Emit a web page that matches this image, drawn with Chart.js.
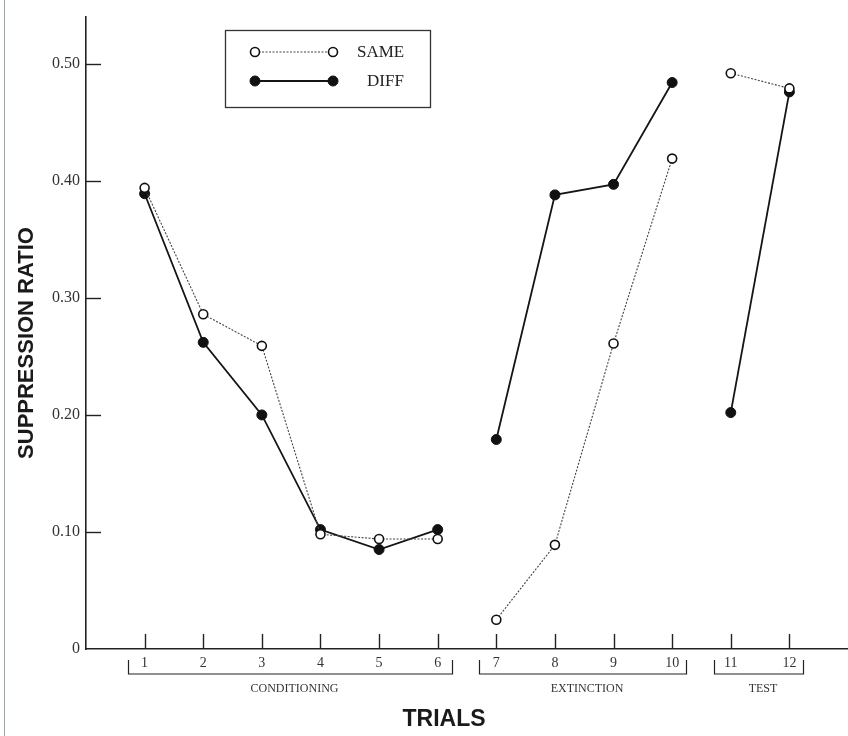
<!DOCTYPE html>
<html><head><meta charset="utf-8">
<script src="https://cdn.jsdelivr.net/npm/chart.js@4"></script>
<style>
html,body{margin:0;padding:0;background:#fff}
#wrap{position:relative;width:848px;height:736px;overflow:hidden}
#edge{position:absolute;left:4px;top:0;width:1px;height:736px;background:#9fa8a0}
canvas{display:block}
</style>
</head><body><div id="wrap"><canvas id="c" width="848" height="736"></canvas><div id="edge"></div></div>
<script>
const trials = [1, 2, 3, 4, 5, 6, 7, 8, 9, 10, 11, 12];
const sameValues = [0.394, 0.286, 0.259, 0.098, 0.094, 0.094, 0.025, 0.089, 0.261, 0.419, 0.492, 0.479];
const diffValues = [0.389, 0.262, 0.200, 0.102, 0.085, 0.102, 0.179, 0.388, 0.397, 0.484, 0.202, 0.476];
const yTickValues = [0, 0.1, 0.2, 0.3, 0.4, 0.5];
const phaseNames = ['CONDITIONING', 'EXTINCTION', 'TEST'];
const phaseFirstTrial = [1, 7, 11];
const phaseLastTrial = [6, 10, 12];
const seriesNames = ['SAME', 'DIFF'];
const axisTitleY = 'SUPPRESSION RATIO';
const axisTitleX = 'TRIALS';

const SERIF = "'Liberation Serif','Times New Roman',serif";
const SANS = "'Liberation Sans',Arial,sans-serif";
const gapSeg = ctx => phaseLastTrial.includes(trials[ctx.p0DataIndex]) ? 'rgba(0,0,0,0)' : undefined;

const extras = {
  id: 'extras',
  afterDraw(chart) {
    const ctx = chart.ctx, xs = chart.scales.x, ys = chart.scales.y;
    const ca = chart.chartArea;
    ctx.save();
    ctx.strokeStyle = '#222';
    ctx.lineWidth = 1.4;
    yTickValues.forEach(v => {
      if (v === 0) return;
      const y = Math.round(ys.getPixelForValue(v)) + 0.5;
      ctx.beginPath(); ctx.moveTo(ca.left, y); ctx.lineTo(ca.left + 15, y); ctx.stroke();
    });
    trials.forEach(t => {
      const x = Math.round(xs.getPixelForValue(t)) + 0.5;
      ctx.beginPath(); ctx.moveTo(x, ca.bottom); ctx.lineTo(x, ca.bottom - 15); ctx.stroke();
    });
    ctx.lineWidth = 1.2;
    ctx.fillStyle = '#333';
    ctx.font = '12px ' + SERIF;
    ctx.textAlign = 'center';
    ctx.textBaseline = 'middle';
    const by = ca.bottom + 25, bt = ca.bottom + 11;
    phaseNames.forEach((name, i) => {
      const x0 = Math.round(xs.getPixelForValue(phaseFirstTrial[i] - 0.29)) + 0.5;
      const x1 = Math.round(xs.getPixelForValue(phaseLastTrial[i] + 0.24)) + 0.5;
      ctx.beginPath();
      ctx.moveTo(x0, bt); ctx.lineTo(x0, by); ctx.lineTo(x1, by); ctx.lineTo(x1, bt);
      ctx.stroke();
      ctx.fillText(name, (x0 + x1) / 2 + 4, by + 15);
    });
    ctx.fillStyle = '#1a1a1a';
    ctx.font = 'bold 23px ' + SANS;
    ctx.fillText(axisTitleX, 444, 720);
    ctx.save();
    ctx.translate(27, 343);
    ctx.rotate(-Math.PI / 2);
    ctx.font = 'bold 22px ' + SANS;
    ctx.fillText(axisTitleY, 0, 0);
    ctx.restore();
    ctx.strokeStyle = '#333';
    ctx.lineWidth = 1.3;
    ctx.strokeRect(225.5, 30.5, 205, 77);
    const rows = [52, 81];
    const dsets = chart.data.datasets;
    rows.forEach((ry, i) => {
      const d = dsets[i];
      ctx.strokeStyle = d.borderColor;
      ctx.lineWidth = d.borderWidth;
      ctx.setLineDash(d.borderDash || []);
      ctx.beginPath(); ctx.moveTo(255, ry); ctx.lineTo(333, ry); ctx.stroke();
      ctx.setLineDash([]);
      [255, 333].forEach(px => {
        ctx.beginPath();
        ctx.arc(px, ry, d.pointRadius, 0, Math.PI * 2);
        ctx.fillStyle = d.pointBackgroundColor;
        ctx.fill();
        ctx.strokeStyle = d.pointBorderColor;
        ctx.lineWidth = d.pointBorderWidth;
        ctx.stroke();
      });
      ctx.fillStyle = '#222';
      ctx.font = '17px ' + SERIF;
      ctx.textAlign = 'left';
      ctx.fillText(seriesNames[i], i === 0 ? 357 : 367, ry + 1);
    });
    ctx.restore();
  }
};

new Chart(document.getElementById('c'), {
  type: 'line',
  data: {
    labels: trials,
    datasets: [
      {
        label: seriesNames[0],
        data: trials.map((t, i) => ({ x: t, y: sameValues[i] })),
        borderColor: '#444',
        borderWidth: 1.1,
        borderDash: [2, 1.5],
        pointRadius: 4.5,
        pointBackgroundColor: '#fff',
        pointBorderColor: '#111',
        pointBorderWidth: 1.6,
        segment: { borderColor: gapSeg },
        order: 0
      },
      {
        label: seriesNames[1],
        data: trials.map((t, i) => ({ x: t, y: diffValues[i] })),
        borderColor: '#151515',
        borderWidth: 1.8,
        pointRadius: 5,
        pointBackgroundColor: '#111',
        pointBorderColor: '#111',
        pointBorderWidth: 1,
        segment: { borderColor: gapSeg },
        order: 1
      }
    ]
  },
  options: {
    responsive: false,
    animation: false,
    devicePixelRatio: 1,
    layout: { autoPadding: false, padding: { top: 17, right: 0, left: 0, bottom: 0 } },
    plugins: { legend: { display: false }, tooltip: { enabled: false } },
    scales: {
      x: {
        type: 'linear',
        min: 0, max: 13,
        afterFit: s => { s.height = 87; s.paddingRight = 0; s.paddingLeft = 0; },
        afterBuildTicks: s => { s.ticks = trials.map(v => ({ value: v })); },
        grid: { display: true, drawOnChartArea: false, drawTicks: false },
        border: { display: true, color: '#222', width: 1.6 },
        ticks: {
          padding: 6,
          color: '#333',
          font: { family: SERIF, size: 14 },
          maxRotation: 0,
          autoSkip: false,
          callback: v => String(v)
        }
      },
      y: {
        type: 'linear',
        min: 0, max: 0.54,
        afterFit: s => { s.width = 86; s.paddingTop = 0; s.paddingBottom = 0; },
        afterBuildTicks: s => { s.ticks = yTickValues.map(v => ({ value: v })); },
        grid: { display: true, drawOnChartArea: false, drawTicks: false },
        border: { display: true, color: '#222', width: 1.6 },
        ticks: {
          padding: 6,
          color: '#333',
          font: { family: SERIF, size: 16 },
          callback: v => v === 0 ? '0' : v.toFixed(2)
        }
      }
    }
  },
  plugins: [extras]
});
</script>
</body></html>
